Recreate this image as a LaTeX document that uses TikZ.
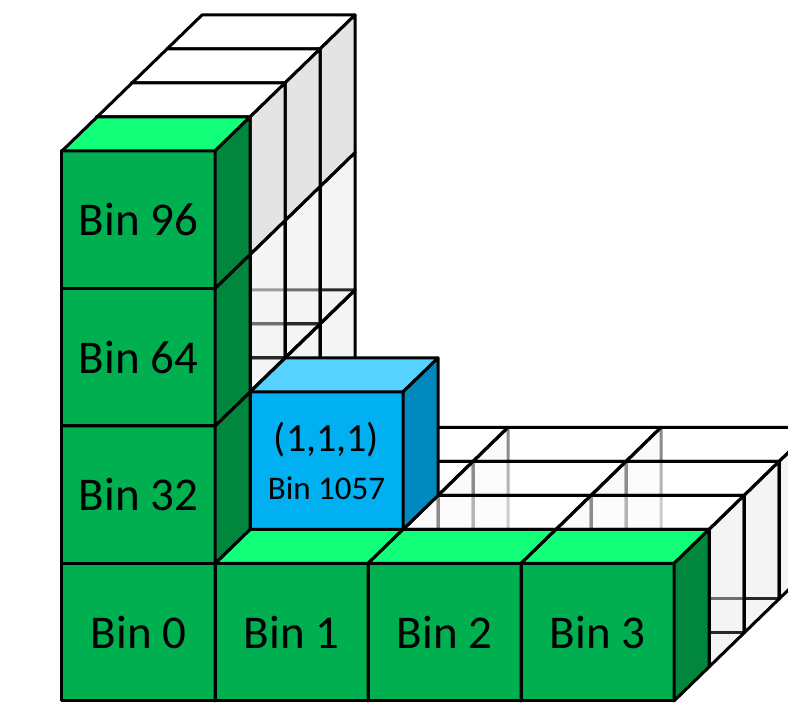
\documentclass[tikz,border=0pt]{standalone}
\usepackage{fontspec}
\setmainfont{Carlito}

\definecolor{binfront}{HTML}{00B050}
\definecolor{bintop}{HTML}{12FF7A}
\definecolor{binside}{HTML}{00873D}
\definecolor{selfront}{HTML}{00B0F0}
\definecolor{seltop}{HTML}{55D2FF}
\definecolor{selside}{HTML}{0089BE}
\definecolor{gridside}{HTML}{C8C8C8}
\definecolor{gridsidetop}{HTML}{E4E4E4}

\tikzset{
  edge/.style={draw=black, line width=3pt, line join=round},
  % empty grid cells: see-through faces
  wfront/.style={edge, fill=white, fill opacity=0.35},
  wtop/.style={edge, fill=white, fill opacity=0.55},
  wright/.style={edge, fill=gridside, fill opacity=0.2},
  % top layer of the wall: solid faces
  wfronttop/.style={edge, fill=white},
  wtoptop/.style={edge, fill=white},
  wrighttop/.style={edge, fill=gridsidetop},
  % occupied bins
  gfront/.style={edge, fill=binfront},
  gtop/.style={edge, fill=bintop},
  gright/.style={edge, fill=binside},
  bfront/.style={edge, fill=selfront},
  btop/.style={edge, fill=seltop},
  bright/.style={edge, fill=selside},
  binlabel/.style={font=\fontsize{47pt}{56pt}\selectfont, inner sep=0pt},
}

% one cell of the grid: x, depth, height, then styles of the front, top and right faces
\newcommand\drawcube[6]{%
  \path[#4] (#1,#2,#3) -- ++(1,0,0) -- ++(0,0,1) -- ++(-1,0,0) -- cycle;
  \path[#5] (#1,#2,#3) ++(0,0,1) -- ++(1,0,0) -- ++(0,1,0) -- ++(-1,0,0) -- cycle;
  \path[#6] (#1,#2,#3) ++(1,0,0) -- ++(0,1,0) -- ++(0,0,1) -- ++(0,-1,0) -- cycle;
}

\begin{document}
\begin{tikzpicture}[x={(153pt,0pt)}, y={(35pt,34pt)}, z={(0pt,137.5pt)}]
\path[use as bounding box] (-62pt,-22pt) rectangle (726pt,701pt);
\clip (-62pt,-22pt) rectangle (726pt,701pt);

% back layers of the grid, drawn from the back to the front
\foreach \d in {3,2,1}{
  \foreach \x in {0,...,3}{\drawcube{\x}{\d}{0}{wfront}{wtop}{wright}}
  \drawcube{0}{\d}{1}{wfront}{wtop}{wright}
  \ifnum\d=1 \drawcube{1}{1}{1}{bfront}{btop}{bright}\fi
  \drawcube{0}{\d}{2}{wfront}{wtop}{wright}
  \drawcube{0}{\d}{3}{wfronttop}{wtoptop}{wrighttop}
}

% front layer: occupied bins
\foreach \x in {0,...,3}{\drawcube{\x}{0}{0}{gfront}{gtop}{gright}}
\foreach \z in {1,2,3}{\drawcube{0}{0}{\z}{gfront}{gtop}{gright}}

% labels
\node[binlabel] (bin0)  at (0.5,0,0.5) {Bin 0};
\node[binlabel] (bin1)  at (1.5,0,0.5) {Bin 1};
\node[binlabel] (bin2)  at (2.5,0,0.5) {Bin 2};
\node[binlabel] (bin3)  at (3.5,0,0.5) {Bin 3};
\node[binlabel] (bin32) at (0.5,0,1.5) {Bin 32};
\node[binlabel] (bin64) at (0.5,0,2.5) {Bin 64};
\node[binlabel] (bin96) at (0.5,0,3.5) {Bin 96};
\node[font=\fontsize{40pt}{48pt}\selectfont, inner sep=0pt, yshift=21pt] (coord) at (1.5,1,1.5) {(1,1,1)};
\node[font=\fontsize{33pt}{40pt}\selectfont, inner sep=0pt, yshift=-28pt] (bin1057) at (1.5,1,1.5) {Bin 1057};
\end{tikzpicture}
\end{document}
